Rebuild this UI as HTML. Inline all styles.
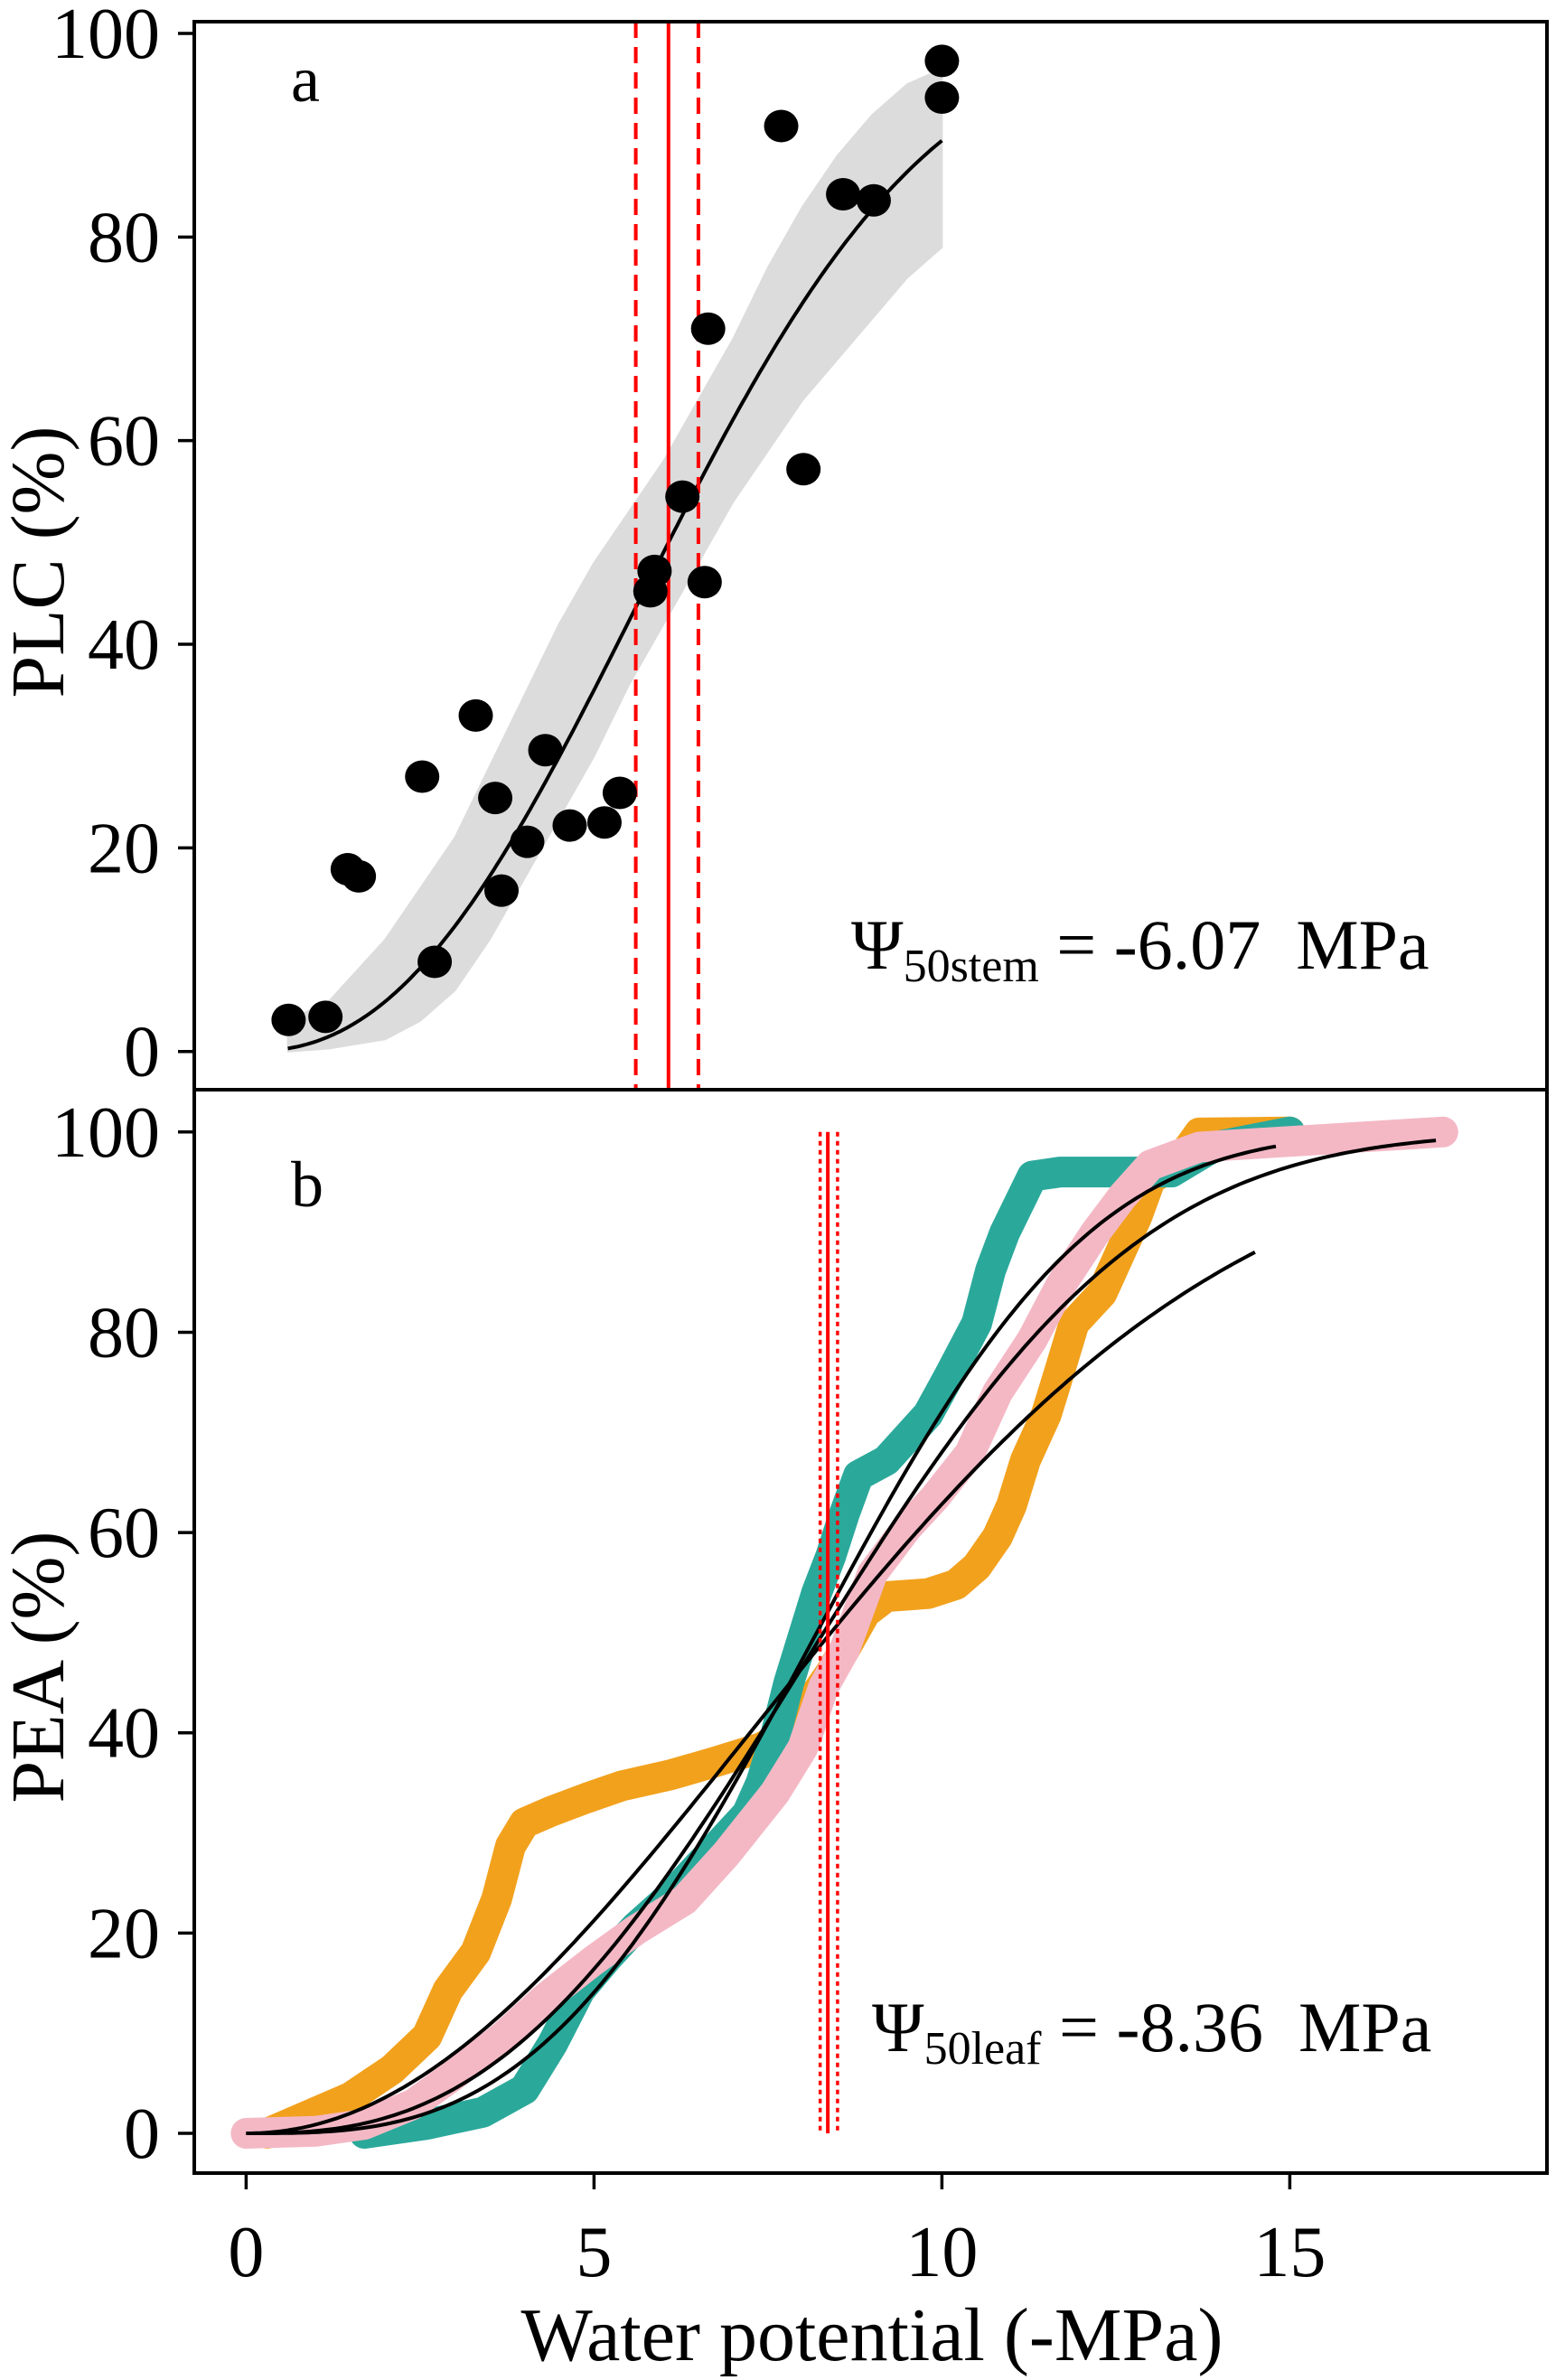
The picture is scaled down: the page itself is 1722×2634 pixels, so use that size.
<!DOCTYPE html>
<html><head><meta charset="utf-8"><style>
html,body{margin:0;padding:0;background:#fff;}
svg{display:block;font-family:"Liberation Serif",serif;}
</style></head><body>
<svg id="chart" width="1722" height="2634" viewBox="0 0 1722 2634" xmlns="http://www.w3.org/2000/svg"></svg>
<script>
// ---- data: panel a ----
const plcX = [0.61,1.14,1.46,1.62,2.53,2.71,3.3,3.58,3.67,4.04,4.3,4.65,5.15,5.37,5.81,5.87,6.27,6.59,6.64,7.69,8.01,8.58,9.02,10,10];
const plcY = [3.1,3.4,17.9,17.2,27,8.8,33,24.9,15.8,20.6,29.6,22.2,22.5,25.4,45.2,47.2,54.5,46.1,71,90.9,57.2,84.2,83.6,97.3,93.7];
const bandX = [0.6,1.2,2,2.5,3,3.5,4,4.5,5,5.5,6,6.5,7,7.5,8,8.5,9,9.5,10];
const bandLo = [0,0.3,1.2,3,6,11,17,23,29,36,42,48,54,59,64,68,72,76,79];
const bandHi = [3,5,11,16,21,28,35,42,48,53,58,64,70,77,83,88,92,95,96.5];
const stemFit = {b:7.09, c:2.36, xmin:0.6, xmax:10};
const stemP50 = 6.07, stemLo = 5.6, stemHi = 6.5;
const yTicks = [0,20,40,60,80,100];
const xTicks = [0,5,10,15];
// ---- data: panel b ----
const orangeX = [0.3,0.8,1.5,2.1,2.6,2.9,3.3,3.6,3.8,4.0,4.4,4.9,5.4,6.1,6.7,7.4,7.8,8.1,8.4,8.6,8.9,9.2,9.8,10.2,10.5,10.8,11.0,11.2,11.5,11.7,11.9,12.3,12.6,12.8,13.0,13.4,13.7,15.0];
const orangeY = [0,1.5,3.6,6.4,9.7,14.3,18.1,23.4,28.7,31,32.2,33.5,34.7,35.8,37,38.5,40,43,46,48.3,52,53.6,53.9,54.8,56.6,59.6,62.7,67.2,71.8,76.3,80.9,83.9,88.5,91.5,95.3,97,99.9,100];
const tealX = [1.7,2.6,3.4,4.0,4.4,4.8,5.2,5.6,6.1,6.5,6.8,7.2,7.4,7.6,7.8,8.0,8.2,8.4,8.6,8.8,9.2,9.5,9.8,10.1,10.5,10.7,10.9,11.3,11.7,13.3,13.9,15.0];
const tealY = [0,0.9,2.1,4.4,8.9,14.3,17.6,20.6,23.7,26.7,28.9,31.9,35.0,39.5,45,49.5,54,57.6,61.9,65.7,67.2,69.5,71.8,75.6,80.9,86.2,89.9,95.6,96,96,98.5,100];
const pinkX = [0,1.0,1.7,2.4,3.0,3.7,4.3,5.0,5.6,6.3,6.9,7.6,8.0,8.3,8.6,9.0,9.5,9.9,10.4,10.8,11.3,11.7,12.2,12.6,13.0,13.7,17.2];
const pinkY = [0,0.2,0.9,2.9,5.9,9.7,13.5,17.3,20.3,23.3,27.9,34,38.5,44.6,48.3,55.9,60.5,63.5,67.9,74,79.3,84.6,89.9,93.6,96.7,98.5,100];
const leafFits = [{b:10.05,c:2.05,xmin:0,xmax:14.5},{b:9.24,c:3.07,xmin:0,xmax:14.8},{b:9.52,c:2.67,xmin:0,xmax:17.1}];
const leafP50 = 8.36, leafLo = 8.25, leafHi = 8.5;

// ---- layout ----
const L=215,R=1712,T=24,M=1206,B=2405;
const X0=272.4, XU=77.0;
const sx = v => X0 + v*XU;
const syA = v => 1163.7 - v*(1163.7-37)/100;
const syB = v => 2361 - v*(2361-1252.8)/100;
const NS="http://www.w3.org/2000/svg";
const svg=document.getElementById('chart');
function el(tag,attrs,parent){const e=document.createElementNS(NS,tag);for(const k in attrs)e.setAttribute(k,attrs[k]);(parent||svg).appendChild(e);return e;}
const weib=(f,x)=>100*(1-Math.exp(-Math.pow(x/f.b,f.c)));
function curvePath(f,sy){let d='';for(let i=0;i<=200;i++){const x=f.xmin+(f.xmax-f.xmin)*i/200;d+=(i?'L':'M')+sx(x).toFixed(1)+','+sy(weib(f,x)).toFixed(1);}return d;}
function smooth(xs,ys,sy){let d='M'+sx(xs[0])+','+sy(ys[0]);for(let i=1;i<xs.length;i++){d+='L'+sx(xs[i])+','+sy(ys[i]);}return d;}

// ---- panel a ----
const gA=el('g',{});


let bd='';
bandX.forEach((x,i)=>{bd+=(i?'L':'M')+sx(x)+','+syA(bandHi[i]);});
for(let i=bandX.length-1;i>=0;i--)bd+='L'+sx(bandX[i])+','+syA(bandLo[i]);
const band=el('path',{d:bd+'Z',fill:'#dcdcdc','stroke':'#dcdcdc','stroke-width':2,'stroke-linejoin':'round'},gA);


const fitA=el('path',{d:curvePath(stemFit,syA),fill:'none',stroke:'#000','stroke-width':4},gA);


[[stemLo,'18,10'],[stemP50,null],[stemHi,'18,10']].forEach(([v,da])=>{
  const ln=el('line',{x1:sx(v),x2:sx(v),y1:T,y2:M,stroke:'#f00','stroke-width':4},gA);
  if(da)ln.setAttribute('stroke-dasharray',da);
  
  
});
plcX.forEach((x,i)=>{
  const c=el('ellipse',{cx:sx(x),cy:syA(plcY[i]),rx:19,ry:18,fill:'#000'},gA);
  
  
});

// ---- panel b ----
const gB=el('g',{});


[[orangeX,orangeY,'#f2a11d','orange-series'],[tealX,tealY,'#2aa99b','teal-series'],[pinkX,pinkY,'#f4b8c5','pink-series']].forEach(([xs,ys,col,name])=>{
  const p=el('path',{d:smooth(xs,ys,syB),fill:'none',stroke:col,'stroke-width':34,'stroke-linejoin':'round','stroke-linecap':'round'},gB);
  
  
});
leafFits.forEach(f=>{
  const p=el('path',{d:curvePath(f,syB),fill:'none',stroke:'#000','stroke-width':4},gB);
  
  
});
[[leafLo,'5,5'],[leafP50,null],[leafHi,'5,5']].forEach(([v,da])=>{
  const ln=el('line',{x1:sx(v),x2:sx(v),y1:syB(100),y2:syB(0),stroke:'#f00','stroke-width':da?3.5:4},gB);
  if(da)ln.setAttribute('stroke-dasharray',da);
  
  
});

// ---- frames, ticks, labels ----
const fr=el('rect',{x:L,y:T,width:R-L,height:B-T,fill:'none',stroke:'#000','stroke-width':4});


const dv=el('line',{x1:L,x2:R,y1:M,y2:M,stroke:'#000','stroke-width':4});


[[syA,'y-tick-a'],[syB,'y-tick-b']].forEach(([sy,nm])=>{
  yTicks.forEach(v=>{
    const t=el('line',{x1:L-18,x2:L,y1:sy(v),y2:sy(v),stroke:'#000','stroke-width':3.5});
    
    
    const tx=el('text',{x:L-38,y:sy(v)+27,'text-anchor':'end','font-size':80});
    tx.textContent=v;
    
    
  });
});
xTicks.forEach(v=>{
  const t=el('line',{x1:sx(v),x2:sx(v),y1:B,y2:B+18,stroke:'#000','stroke-width':3.5});
  
  
  const tx=el('text',{x:sx(v),y:2519,'text-anchor':'middle','font-size':80});
  tx.textContent=v;
  
  
});
function txt(x,y,s,size,name,extra){const t=el('text',Object.assign({x:x,y:y,'font-size':size},extra||{}));t.textContent=s;return t;}
txt(322,112,'a',72,'panel-a-label');
txt(322,1335,'b',72,'panel-b-label');
txt(965,2612,'Water potential (-MPa)',84,'x-axis-title',{'text-anchor':'middle'});
txt(0,0,'PLC (%)',84,'y-axis-title-a',{'text-anchor':'middle',transform:'translate(70,622) rotate(-90)'});
txt(0,0,'PEA (%)',84,'y-axis-title-b',{'text-anchor':'middle',transform:'translate(70,1845) rotate(-90)'});
const a1=el('text',{x:942,y:1072,'font-size':78});


a1.innerHTML='Ψ<tspan font-size="52" dy="14">50stem</tspan><tspan dy="-14"> = -6.07\u00a0\u00a0MPa</tspan>';
const a2=el('text',{x:965,y:2270,'font-size':78});


a2.innerHTML='Ψ<tspan font-size="52" dy="14">50leaf</tspan><tspan dy="-14"> = -8.36\u00a0\u00a0MPa</tspan>';
</script>
</body></html>
